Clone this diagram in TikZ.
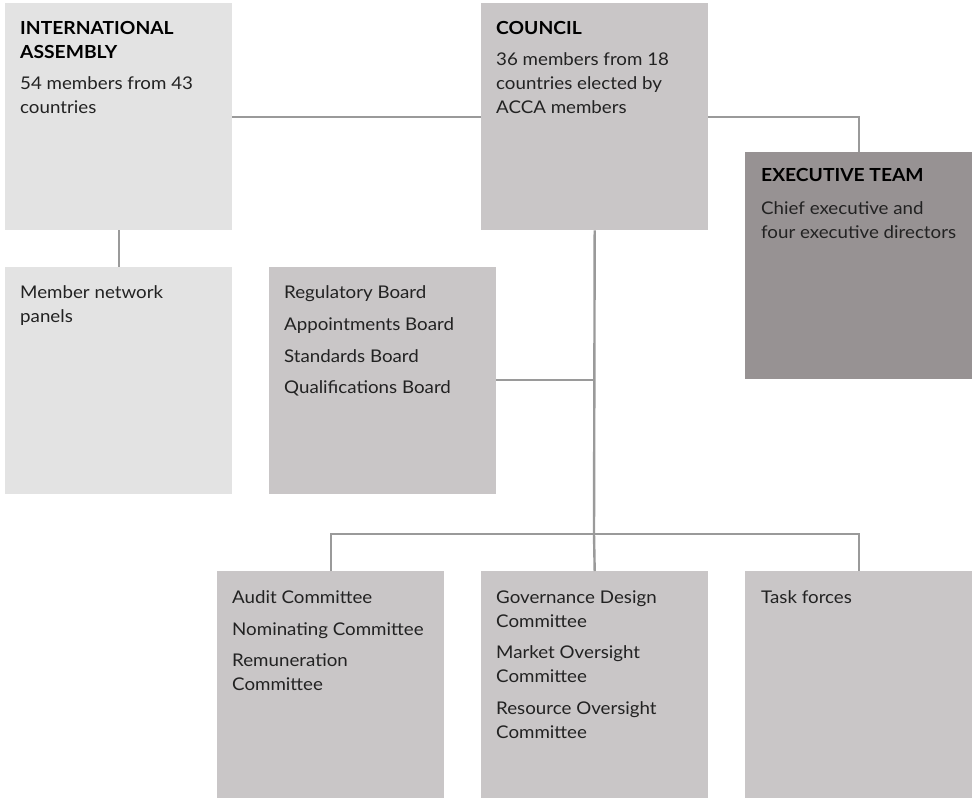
\documentclass[tikz,border=0pt]{standalone}
\usepackage{fontspec}
\setmainfont{Lato}[FakeStretch=1.07]
\definecolor{lightbox}{HTML}{E3E3E3}
\definecolor{midbox}{HTML}{C9C6C7}
\definecolor{darkbox}{HTML}{979293}
\definecolor{linkgray}{HTML}{9A9A9A}
\definecolor{txt}{HTML}{222222}
\tikzset{
  box/.style={draw=none, rectangle, inner sep=0pt, minimum width=227pt, minimum height=227pt, anchor=north west},
  lbox/.style={box, fill=lightbox},
  mbox/.style={box, fill=midbox},
  dbox/.style={box, fill=darkbox},
  label/.style={anchor=north west, inner sep=0pt, align=left, text=txt, font=\fontsize{17.5}{24}\selectfont},
  link/.style={draw=linkgray, line width=2.4pt}
}
\newcommand{\hd}[1]{{\fontsize{18}{24}\selectfont\bfseries\color{black}#1}}
\begin{document}
\begin{tikzpicture}[x=1pt, y=-1pt]
\useasboundingbox (0,0) rectangle (976,798);
% boxes
\node[lbox] (ia) at (5,3) {};
\node[mbox] (council) at (481,3) {};
\node[dbox] (exec) at (745,152) {};
\node[lbox] (mnp) at (5,267) {};
\node[mbox] (boards) at (269,267) {};
\node[mbox] (audit) at (217,571) {};
\node[mbox] (gov) at (481,571) {};
\node[mbox] (task) at (745,571) {};
% connectors
\coordinate (hub) at (594,380);
\coordinate (bus) at (594,534);
\draw[link] (ia.east) -- (council.west);
\draw[link] (council.east) -| (exec.north);
\draw[link] (ia.south) -- (mnp.north);
\draw[link] (council.south) -- (bus);
\draw[link] (boards.east |- hub) -- (hub);
\draw[link] (audit.north) |- (bus) -| (task.north);
\draw[link] (bus) -- (gov.north);
% texts
\node[label] (iat) at (20,21) {\hd{INTERNATIONAL}\\\hd{ASSEMBLY}\\[7pt]54 members from 43\\countries};
\node[label] (councilt) at (496,21) {\hd{COUNCIL}\\[7pt]36 members from 18\\countries elected by\\ACCA members};
\node[label] (exect) at (761,168) {\hd{EXECUTIVE TEAM}\\[9pt]Chief executive and\\four executive directors};
\node[label] (mnpt) at (20,285) {Member network\\panels};
\node[label] (boardst) at (284,285) {Regulatory Board\\[8pt]Appointments Board\\[8pt]Standards Board\\[7pt]Qualifications Board};
\node[label] (auditt) at (232,590) {Audit Committee\\[8pt]Nominating Committee\\[7pt]Remuneration\\Committee};
\node[label] (govt) at (496,591) {Governance Design\\Committee\\[7pt]Market Oversight\\Committee\\[8pt]Resource Oversight\\Committee};
\node[label] (taskt) at (761,590) {Task forces};
\end{tikzpicture}
\end{document}
